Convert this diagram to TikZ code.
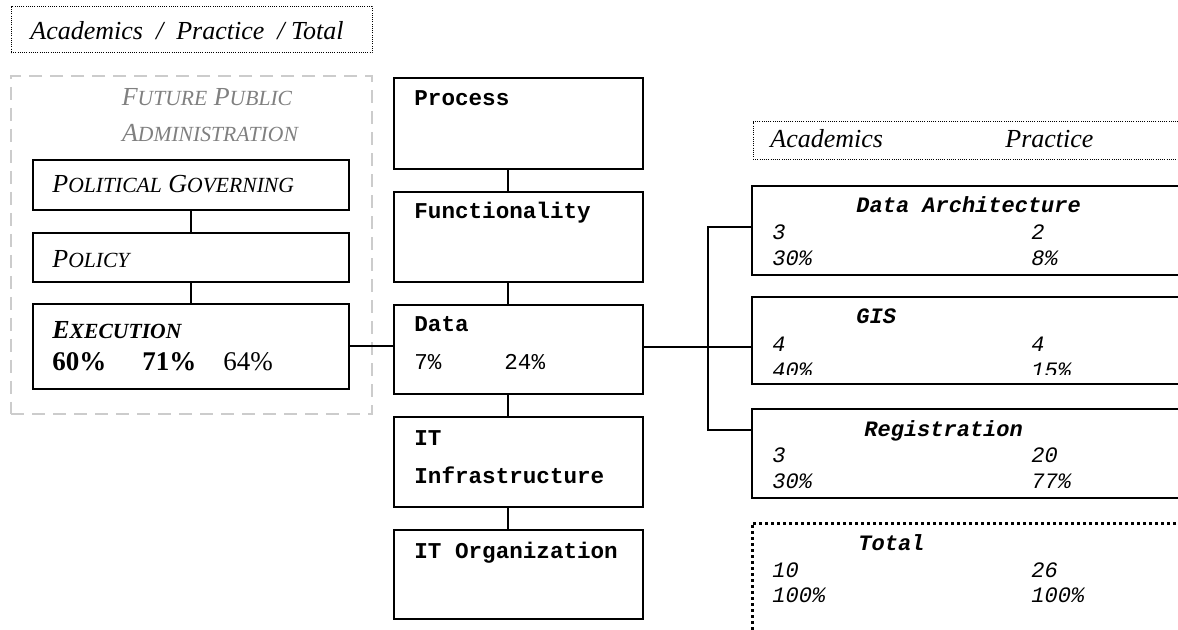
\documentclass[tikz,border=0pt]{standalone}
\usepackage{fontspec}
\setmainfont{Liberation Serif}
\setmonofont{Liberation Mono}
\newcommand\fsc[2]{#1{\fontsize{10.8}{12}\selectfont #2}}
\begin{document}
\begin{tikzpicture}[x=0.5pt,y=-0.5pt,
  box/.style={draw, line width=0.9pt, fill=white, inner sep=0, rectangle},
  link/.style={line width=0.9pt},
  lbl/.style={anchor=base west, inner sep=0},
  serif/.style={font=\fontsize{13}{15}\selectfont\itshape},
  monob/.style={font=\fontsize{11.3}{13}\selectfont\ttfamily\bfseries},
  monoi/.style={font=\fontsize{11}{13}\selectfont\ttfamily\itshape},
  monobi/.style={font=\fontsize{11}{13}\selectfont\ttfamily\bfseries\itshape},
  fine dots/.style={draw, line width=0.5pt, dash pattern=on 0.5pt off 0.6pt},
  heavy dots/.style={draw, line width=1.5pt, dash pattern=on 1.5pt off 1.5pt},
]
\useasboundingbox (0,0) rectangle (1178,630);
\clip (0,0) rectangle (1178,630);

% legend at the top left
\node[fine dots, minimum width=180.5pt, minimum height=23pt, inner sep=0] (legend) at (191.5,30) {};
\node[lbl, serif] (legendtxt) at (30,40) {Academics~~/~~Practice~~/~Total};

% future public administration frame
\node[draw, line width=1pt, color=black!20, dash pattern=on 6.5pt off 4pt,
      minimum width=180.5pt, minimum height=169pt, inner sep=0] (fpa) at (191.5,245) {};
\node[serif, text=black!50, inner sep=0, anchor=base] (fpatitle) at (207,106)
  {\fsc{F}{UTURE} \fsc{P}{UBLIC}};
\node[serif, text=black!50, inner sep=0, anchor=base] (fpatitle2) at (210,142)
  {\fsc{A}{DMINISTRATION}};

% left column
\node[box, minimum width=158pt, minimum height=25pt] (pol) at (191,185) {};
\node[box, minimum width=158pt, minimum height=24.5pt] (policy) at (191,257.5) {};
\node[box, minimum width=158pt, minimum height=42.5pt] (exec) at (191,346.5) {};
\node[lbl, serif] (poltxt) at (52,193) {\fsc{P}{OLITICAL} \fsc{G}{OVERNING}};
\node[lbl, serif] (policytxt) at (52,268) {\fsc{P}{OLICY}};
\node[lbl, serif, font=\fontsize{13}{15}\selectfont\itshape\bfseries] (exectxt) at (52,339) {\fsc{E}{XECUTION}};
\node[lbl, font=\fontsize{13.5}{15}\selectfont\bfseries] (execa) at (52,371) {60\%};
\node[lbl, font=\fontsize{13.5}{15}\selectfont\bfseries] (execb) at (142,371) {71\%};
\node[lbl, font=\fontsize{13.5}{15}\selectfont] (execc) at (223,371) {64\%};
\draw[link] (pol) -- (policy);
\draw[link] (policy) -- (exec);

% middle column
\coordinate (spine) at (508,0);
\node[box, minimum width=124.5pt, minimum height=45.5pt] (proc) at (518.5,123.5) {};
\node[box, minimum width=124.5pt, minimum height=45pt] (func) at (518.5,237) {};
\node[box, minimum width=124.5pt, minimum height=44.5pt] (data) at (518.5,349.5) {};
\node[box, minimum width=124.5pt, minimum height=45pt] (itinf) at (518.5,462) {};
\node[box, minimum width=124.5pt, minimum height=44.5pt] (itorg) at (518.5,574.5) {};
\node[lbl, monob] (proctxt) at (414,106) {Process};
\node[lbl, monob] (functxt) at (414,219) {Functionality};
\node[lbl, monob] (datatxt) at (414,332) {Data};
\node[lbl, font=\fontsize{11.3}{13}\selectfont\ttfamily] (dataa) at (414,370) {7\%};
\node[lbl, font=\fontsize{11.3}{13}\selectfont\ttfamily] (datab) at (504,370) {24\%};
\node[lbl, monob] (itinftxt) at (414,446) {IT};
\node[lbl, monob] (itinftxt2) at (414,484) {Infrastructure};
\node[lbl, monob] (itorgtxt) at (414,558) {IT Organization};
\draw[link] (proc.south -| spine) -- (func.north -| spine);
\draw[link] (func.south -| spine) -- (data.north -| spine);
\draw[link] (data.south -| spine) -- (itinf.north -| spine);
\draw[link] (itinf.south -| spine) -- (itorg.north -| spine);
\coordinate (execlink) at (0,346);
\draw[link] (exec.east |- execlink) -- (data.west |- execlink);

% right column
\node[fine dots, minimum width=225pt, minimum height=19pt, inner sep=0] (hdr) at (978,141) {};
\node[lbl, serif] (hdra) at (770,148) {Academics};
\node[lbl, serif] (hdrb) at (1005,148) {Practice};

\node[box, minimum width=224pt, minimum height=44.5pt] (darch) at (976,230.5) {};
\node[box, minimum width=224pt, minimum height=43.5pt] (gis) at (976,340.5) {};
\node[box, minimum width=224pt, minimum height=44.5pt] (reg) at (976,453.5) {};
\node[heavy dots, minimum width=224pt, minimum height=64pt, inner sep=0] (total) at (976,587) {};

\node[lbl, monobi] (darchtxt) at (856,213) {Data Architecture};
\node[lbl, monoi] at (772,240) {3};
\node[lbl, monoi] at (772,266) {30\%};
\node[lbl, monoi] at (1031,240) {2};
\node[lbl, monoi] at (1031,266) {8\%};

\node[lbl, monobi] (gistxt) at (856,324) {GIS};
\node[lbl, monoi] at (772,352) {4};
\node[lbl, monoi] at (1031,352) {4};
\begin{scope}
  \clip (760,355) rectangle (1178,375);
  \node[lbl, monoi] at (772,378) {40\%};
  \node[lbl, monoi] at (1031,378) {15\%};
\end{scope}

\node[lbl, monobi] (regtxt) at (864,437) {Registration};
\node[lbl, monoi] at (772,463) {3};
\node[lbl, monoi] at (772,488) {30\%};
\node[lbl, monoi] at (1031,463) {20};
\node[lbl, monoi] at (1031,488) {77\%};

\node[lbl, monobi] (totaltxt) at (858,550) {Total};
\node[lbl, monoi] at (772,577) {10};
\node[lbl, monoi] at (772,602) {100\%};
\node[lbl, monoi] at (1031,577) {26};
\node[lbl, monoi] at (1031,602) {100\%};

% connectors to the data subsets
\coordinate (gislink) at (0,347);
\draw[link] (data.east |- gislink) -- (gis.west |- gislink);
\coordinate (fork) at (708,0);
\path (darch.north west) ++(0,42) coordinate (darchin);
\path (reg.north west) ++(0,22) coordinate (regin);
\draw[link] (darchin) -- (darchin -| fork) -- (regin -| fork) -- (regin);
\end{tikzpicture}
\end{document}
